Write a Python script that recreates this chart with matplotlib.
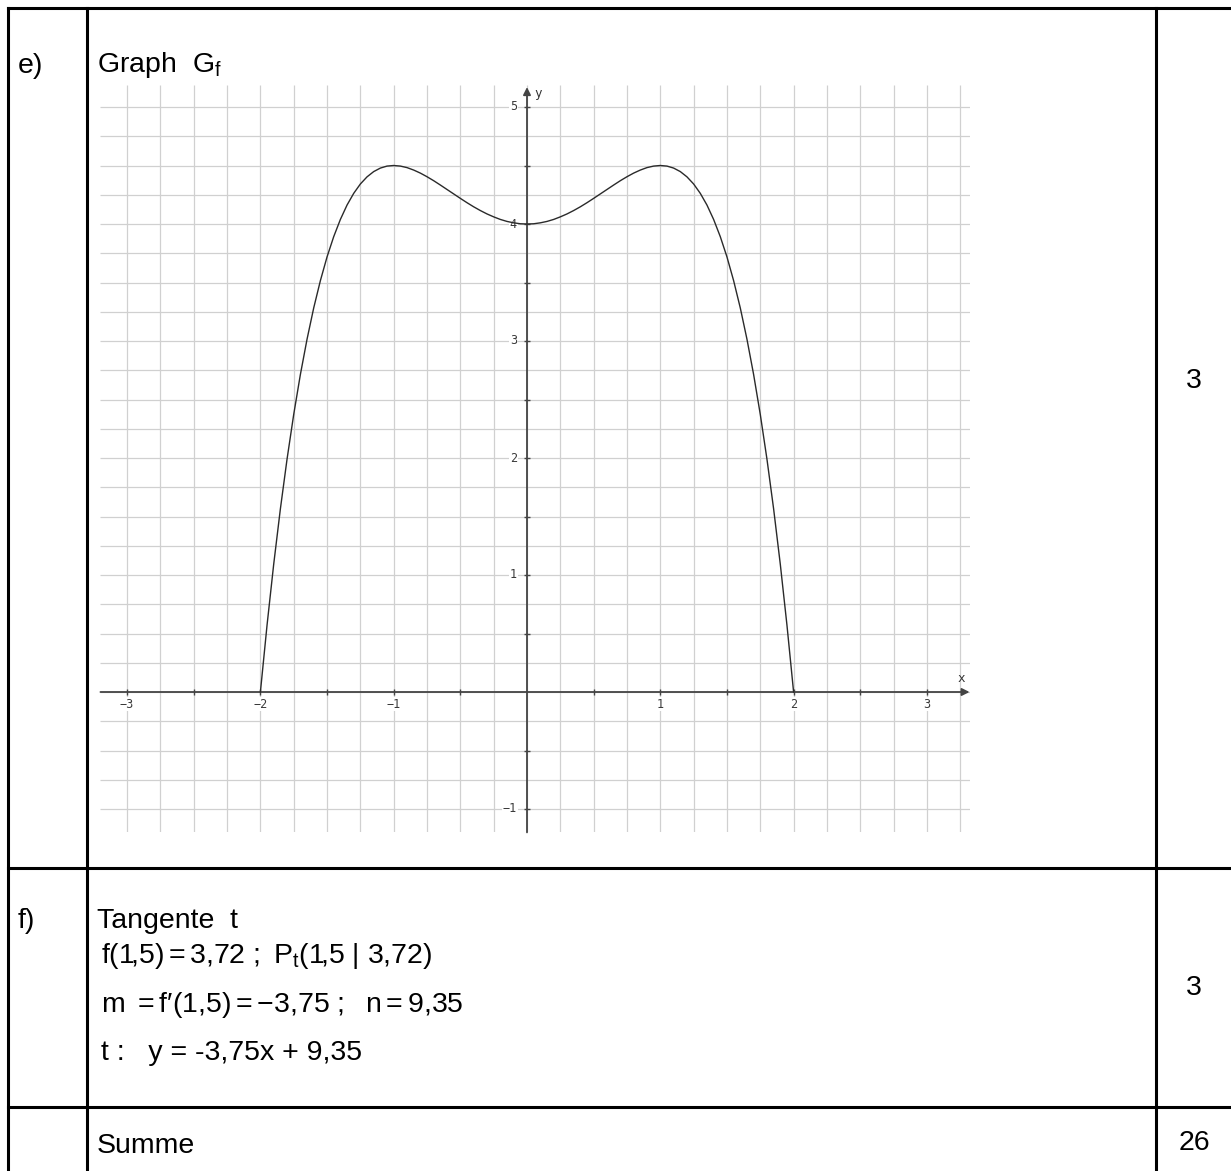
import matplotlib.pyplot as plt
import numpy as np
from matplotlib.lines import Line2D

plt.rcParams['font.family'] = ['Liberation Sans', 'DejaVu Sans']
plt.rcParams['mathtext.fontset'] = 'custom'
plt.rcParams['mathtext.rm'] = 'Liberation Sans'
plt.rcParams['mathtext.it'] = 'Liberation Sans'
plt.rcParams['mathtext.bf'] = 'Liberation Sans:bold'

W, H = 1231, 1171

# points of G_f (step 0.05)
curve_x = [-2.00, -1.95, -1.90, -1.85, -1.80, -1.75, -1.70, -1.65, -1.60, -1.55,
           -1.50, -1.45, -1.40, -1.35, -1.30, -1.25, -1.20, -1.15, -1.10, -1.05,
           -1.00, -0.95, -0.90, -0.85, -0.80, -0.75, -0.70, -0.65, -0.60, -0.55,
           -0.50, -0.45, -0.40, -0.35, -0.30, -0.25, -0.20, -0.15, -0.10, -0.05,
           0.00, 0.05, 0.10, 0.15, 0.20, 0.25, 0.30, 0.35, 0.40, 0.45,
           0.50, 0.55, 0.60, 0.65, 0.70, 0.75, 0.80, 0.85, 0.90, 0.95,
           1.00, 1.05, 1.10, 1.15, 1.20, 1.25, 1.30, 1.35, 1.40, 1.45,
           1.50, 1.55, 1.60, 1.65, 1.70, 1.75, 1.80, 1.85, 1.90, 1.95, 2.00]
curve_y = [0.000, 0.573, 1.094, 1.566, 1.991, 2.373, 2.714, 3.016, 3.283, 3.516,
           3.719, 3.892, 4.039, 4.162, 4.262, 4.342, 4.403, 4.448, 4.478, 4.495,
           4.500, 4.495, 4.482, 4.461, 4.435, 4.404, 4.370, 4.333, 4.295, 4.257,
           4.219, 4.182, 4.147, 4.115, 4.086, 4.061, 4.039, 4.022, 4.010, 4.002,
           4.000, 4.002, 4.010, 4.022, 4.039, 4.061, 4.086, 4.115, 4.147, 4.182,
           4.219, 4.257, 4.295, 4.333, 4.370, 4.404, 4.435, 4.461, 4.482, 4.495,
           4.500, 4.495, 4.478, 4.448, 4.403, 4.342, 4.262, 4.162, 4.039, 3.892,
           3.719, 3.516, 3.283, 3.016, 2.714, 2.373, 1.991, 1.566, 1.094, 0.573, 0.000]

x_tick_pos = [-3, -2, -1, 1, 2, 3]
x_tick_text = ['\u22123', '\u22122', '\u22121', '1', '2', '3']
y_tick_pos = [-1, 1, 2, 3, 4, 5]
y_tick_text = ['\u22121', '1', '2', '3', '4', '5']

row_labels = ['e)', 'f)']
points = ['3', '3', '26']
graph_title = r'Graph  $\mathrm{G_f}$'
tangent_title = 'Tangente  t'
tangent_lines = [
    r'$\mathrm{f(1\!{,}5) = 3{,}72\ ;\ P_t(1\!{,}5\ |\ 3{,}72)}$',
    r'$\mathrm{m\ = f\prime(1{,}5) = -3{,}75\ ;\ \ n = 9{,}35}$',
    't :   y = -3,75x + 9,35',
]
sum_label = 'Summe'


def fx(px):
    return px / W


def fy(py):
    return 1 - py / H


fig = plt.figure(figsize=(W / 100, H / 100), dpi=100)

# table frame
lw = 2.2
for y in [8, 868, 1107]:
    fig.add_artist(Line2D([fx(8), fx(1231)], [fy(y), fy(y)], color='k', lw=lw,
                          solid_capstyle='projecting'))
for x in [8, 87, 1156]:
    fig.add_artist(Line2D([fx(x), fx(x)], [fy(8), fy(1171)], color='k', lw=lw,
                          solid_capstyle='projecting'))

fs = 20.5
fig.text(fx(18), fy(73), row_labels[0], fontsize=fs, va='baseline')
fig.text(fx(18), fy(928), row_labels[1], fontsize=fs, va='baseline')
fig.text(fx(97), fy(72), graph_title, fontsize=fs, va='baseline')
fig.text(fx(97), fy(928), tangent_title, fontsize=fs, va='baseline')
for txt, base in zip(tangent_lines, [963, 1012, 1060]):
    fig.text(fx(101), fy(base), txt, fontsize=fs, va='baseline')
fig.text(fx(97), fy(1153), sum_label, fontsize=fs, va='baseline')
for txt, yc in zip(points, [381, 988, 1143]):
    fig.text(fx(1194), fy(yc), txt, fontsize=fs, ha='center', va='center')

# coordinate system
x0, y0 = 527, 692
sx, sy = 133.3, 117.0
xlim = (-3.2, 3.32)
ylim = (-1.2, 5.19)
left = x0 + xlim[0] * sx
right = x0 + xlim[1] * sx
top = y0 - ylim[1] * sy
bottom = y0 - ylim[0] * sy
ax = fig.add_axes([fx(left), fy(bottom), (right - left) / W, (bottom - top) / H])
ax.set_xlim(xlim)
ax.set_ylim(ylim)
ax.axis('off')

grid_c = '#d0d0d0'
ax.vlines(np.arange(-3, 3.26, 0.25), ylim[0], ylim[1], color=grid_c, lw=0.9, zorder=1)
ax.hlines(np.arange(-1, 5.01, 0.25), xlim[0], xlim[1], color=grid_c, lw=0.9, zorder=1)

lab_kw = dict(fontsize=8.5, family='DejaVu Sans Mono', color='#3a3a3a', zorder=2,
              textcoords='offset pixels',
              bbox=dict(fc='white', ec='none', pad=0.6))
for p, t in zip(x_tick_pos, x_tick_text):
    ax.annotate(t, (p, 0), xytext=(0, -12), ha='center', va='center', **lab_kw)
for p, t in zip(y_tick_pos, y_tick_text):
    ax.annotate(t, (0, p), xytext=(-10, 0), ha='right', va='center', **lab_kw)

axis_c = '#444444'
arrow = dict(arrowstyle='-|>', color=axis_c, lw=1.3, mutation_scale=11,
             shrinkA=0, shrinkB=0)
ax.annotate('', xy=(xlim[1], 0), xytext=(xlim[0], 0), arrowprops=arrow, zorder=3)
ax.annotate('', xy=(0, 5.17), xytext=(0, ylim[0]), arrowprops=arrow, zorder=3)

xt = [v for v in np.arange(-3, 3.01, 0.5) if abs(v) > 1e-9]
yt = [v for v in np.arange(-1, 5.01, 0.5) if abs(v) > 1e-9]
ax.plot(xt, [0] * len(xt), ls='none', marker='|', ms=5, mew=1, color=axis_c, zorder=3)
ax.plot([0] * len(yt), yt, ls='none', marker='_', ms=5, mew=1, color=axis_c, zorder=3)

ax.annotate('x', (xlim[1], 0), xytext=(-8, 13), textcoords='offset pixels',
            ha='center', va='center', fontsize=9, family='DejaVu Sans Mono', color='#333')
ax.annotate('y', (0, 5.17), xytext=(11, -6), textcoords='offset pixels',
            ha='center', va='center', fontsize=9, family='DejaVu Sans Mono', color='#333')

ax.plot(curve_x, curve_y, color='#2a2a2a', lw=1.0, zorder=4, clip_on=False)

fig.savefig('out.png', dpi=100)
